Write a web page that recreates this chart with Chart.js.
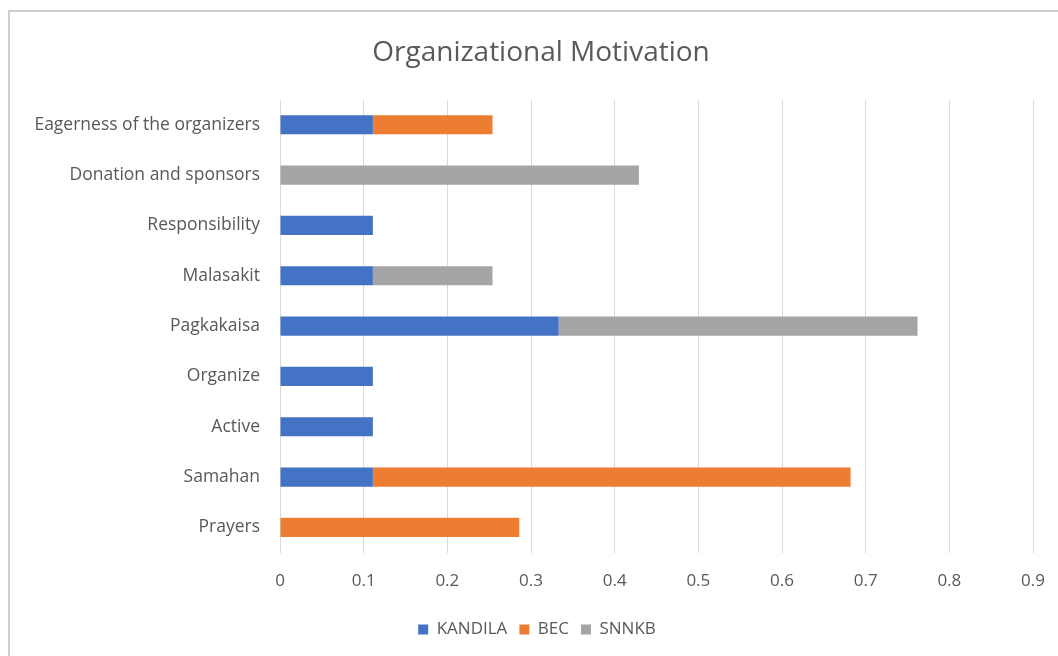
<!DOCTYPE html>
<html>
<head>
<meta charset="utf-8">
<script src="https://cdn.jsdelivr.net/npm/chart.js@4/dist/chart.umd.min.js"></script>
<style>
  html, body { margin: 0; padding: 0; background: #fff; }
  #wrap { position: relative; width: 1058px; height: 656px; }
  #frame {
    position: absolute; left: 8px; top: 10px; right: -4px; bottom: -4px;
    border-left: 2px solid #cfcfcf; border-top: 2px solid #cfcfcf;
  }
  canvas { position: absolute; left: 0; top: 0; }
</style>
</head>
<body>
<div id="wrap">
  <div id="frame"></div>
  <canvas id="myChart" width="1058" height="656"></canvas>
</div>
<script>
const categories = [
  "Eagerness of the organizers",
  "Donation and sponsors",
  "Responsibility",
  "Malasakit",
  "Pagkakaisa",
  "Organize",
  "Active",
  "Samahan",
  "Prayers"
];
const kandila = [0.111, 0, 0.111, 0.111, 0.333, 0.111, 0.111, 0.111, 0];
const bec = [0.143, 0, 0, 0, 0, 0, 0, 0.571, 0.286];
const snnkb = [0, 0.429, 0, 0.143, 0.429, 0, 0, 0, 0];
const xMax = 0.9;
const xStep = 0.1;

const textColor = "#595959";
const fontFamily = "'Open Sans', Lato, sans-serif";

// the original chart box runs a bit past the right edge, so title and legend sit right of canvas centre
const shiftBlocks = {
  id: "shiftBlocks",
  afterLayout(chart) {
    if (chart.titleBlock) { chart.titleBlock.left += 12; chart.titleBlock.right += 12; }
    if (chart.legend) { chart.legend.left += 8; chart.legend.right += 8; }
  }
};

document.addEventListener("DOMContentLoaded", function () {
  const ctx = document.getElementById("myChart").getContext("2d");
  new Chart(ctx, {
    type: "bar",
    data: {
      labels: categories,
      datasets: [
        { label: "KANDILA", data: kandila, backgroundColor: "#4472C4" },
        { label: "BEC", data: bec, backgroundColor: "#ED7D31" },
        { label: "SNNKB", data: snnkb, backgroundColor: "#A5A5A5" }
      ]
    },
    plugins: [shiftBlocks],
    options: {
      indexAxis: "y",
      responsive: false,
      animation: false,
      devicePixelRatio: 1,
      layout: { padding: { left: 10, right: 10, top: 0, bottom: 8 } },
      datasets: {
        bar: { categoryPercentage: 1, barPercentage: 0.38, borderWidth: 0 }
      },
      scales: {
        x: {
          stacked: true,
          min: 0,
          max: xMax,
          border: { display: false },
          grid: { color: "#d9d9d9", drawTicks: false },
          ticks: {
            stepSize: xStep,
            padding: 18,
            color: textColor,
            font: { family: fontFamily, size: 17 },
            callback: (v) => (v === 0 ? "0" : Number(v).toFixed(1))
          },
          // tick padding gets added to the last label's overhang, trim it back
          afterFit: (s) => { s.paddingRight = 25; }
        },
        y: {
          stacked: true,
          border: { display: false },
          grid: { display: false, drawTicks: false },
          ticks: {
            padding: 20,
            color: textColor,
            font: { family: fontFamily, size: 17.5 }
          },
          afterFit: (s) => { s.width = 270; }
        }
      },
      plugins: {
        title: {
          display: true,
          text: "Organizational Motivation",
          color: textColor,
          font: { family: fontFamily, size: 28, weight: "normal" },
          padding: { top: 36, bottom: 30 }
        },
        legend: {
          position: "bottom",
          labels: {
            color: textColor,
            boxWidth: 10,
            boxHeight: 10,
            padding: 12,
            font: { family: fontFamily, size: 17 }
          }
        },
        tooltip: { enabled: false }
      }
    }
  });
});
</script>
</body>
</html>
